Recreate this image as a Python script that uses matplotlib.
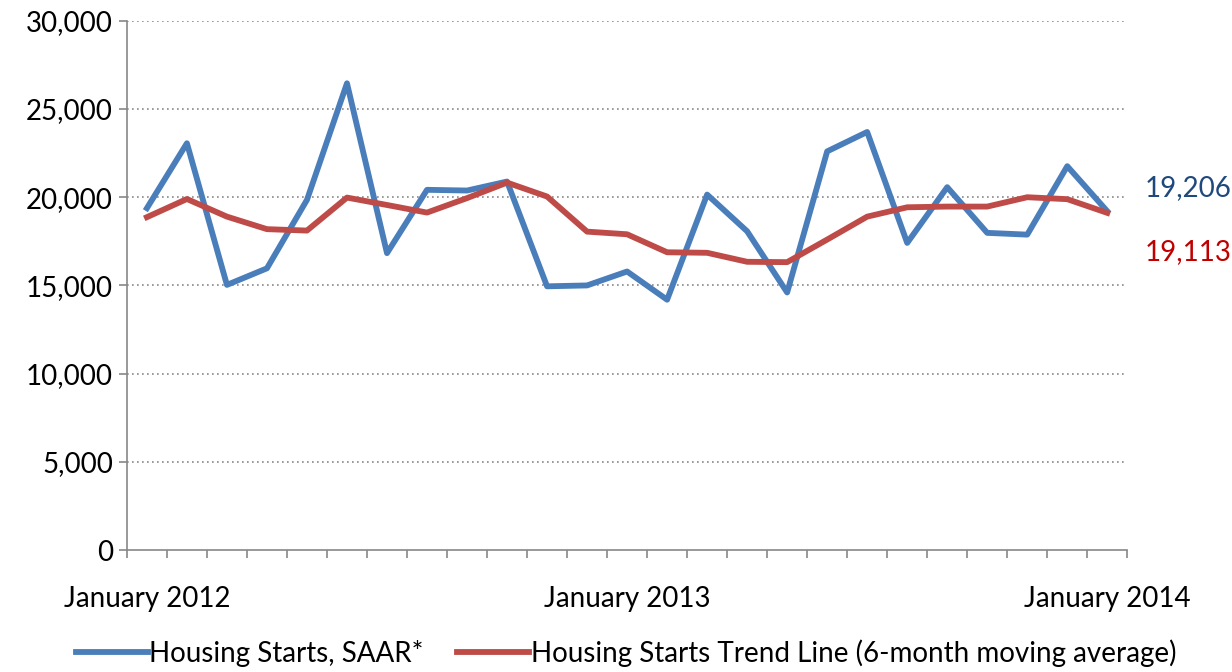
import matplotlib.pyplot as plt
from matplotlib.ticker import FuncFormatter, FixedLocator

# monthly housing starts, Jan 2012 .. Jan 2014
starts = [19380, 23060, 15030, 15970, 19850, 26460, 16830, 20420, 20380, 20890,
          14950, 15000, 15790, 14190, 20150, 18070, 14600, 22600, 23700, 17410,
          20570, 17980, 17880, 21760, 19206]
trend = [18870, 19900, 18900, 18190, 18110, 19980, 19560, 19130, 19950, 20830,
         20040, 18050, 17900, 16880, 16850, 16340, 16320, 17600, 18900, 19430,
         19470, 19470, 20000, 19890, 19113]
xlabels = {0: 'January 2012', 12: 'January 2013', 24: 'January 2014'}

plt.rcParams['font.family'] = ['Lato', 'DejaVu Sans']
fs = 20

fig = plt.figure(figsize=(12.32, 6.72), dpi=100)
ax = fig.add_axes([0.103, 0.1815, 0.812, 0.7875])

x = list(range(len(starts)))
ax.plot(x, starts, color='#4A7EBB', lw=4.2, label='Housing Starts, SAAR*')
ax.plot(x, trend, color='#BE4B48', lw=4.2, label='Housing Starts Trend Line (6-month moving average)')

ax.set_xlim(-0.5, len(starts) - 0.5)
ax.set_ylim(0, 30000)
ax.set_yticks(range(0, 30001, 5000))
ax.yaxis.set_major_formatter(FuncFormatter(lambda v, p: f'{int(v):,}'))
for v in range(5000, 30001, 5000):
    ax.axhline(v, color='#888888', lw=1.2, ls=(0, (1, 2)), zorder=0)

ax.xaxis.set_major_locator(FixedLocator(list(xlabels.keys())))
ax.set_xticklabels(list(xlabels.values()))
ax.xaxis.set_minor_locator(FixedLocator([i - 0.5 for i in range(len(starts) + 1)]))
ax.tick_params(axis='x', which='major', length=0, pad=26, labelsize=fs)
ax.tick_params(axis='x', which='minor', length=6, color='#888888', width=1.2)
ax.tick_params(axis='y', length=6, color='#888888', width=1.2, labelsize=fs, pad=4)

for s in ['top', 'right']:
    ax.spines[s].set_visible(False)
for s in ['left', 'bottom']:
    ax.spines[s].set_color('#888888')
    ax.spines[s].set_linewidth(1.2)

ax.text(1.017, starts[-1] + 1300, f'{starts[-1]:,}', transform=ax.get_yaxis_transform(),
        color='#1F497D', fontsize=fs, ha='left', va='center')
ax.text(1.017, trend[-1] - 2200, f'{trend[-1]:,}', transform=ax.get_yaxis_transform(),
        color='#C00000', fontsize=fs, ha='left', va='center')

fig.legend(loc='lower center', bbox_to_anchor=(0.508, -0.03), ncol=2, frameon=False,
           fontsize=fs, handlelength=2.6, handletextpad=0.05, columnspacing=1.2)

fig.savefig('out.png', dpi=100)
